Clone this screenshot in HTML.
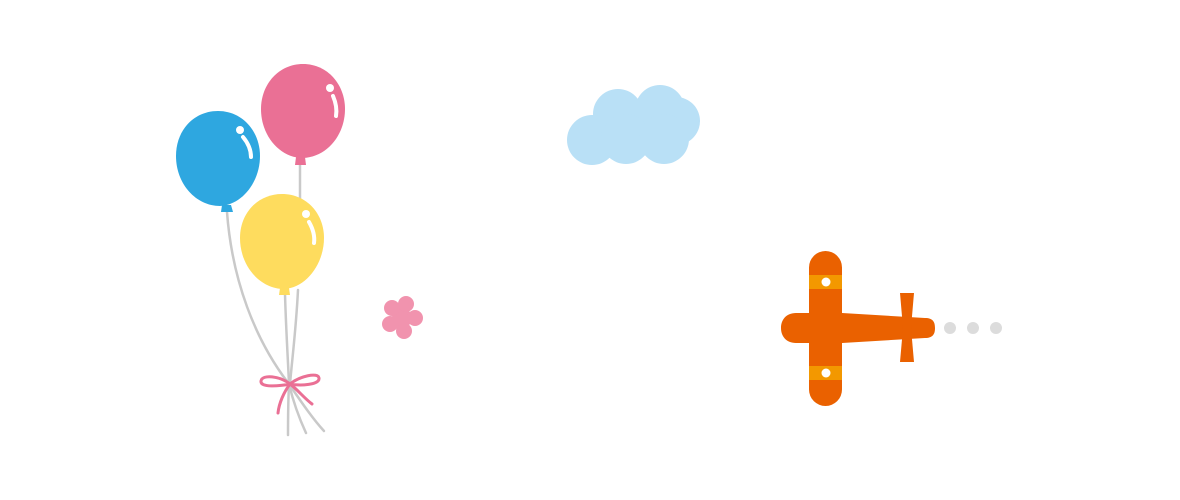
<!DOCTYPE html>
<html><head><meta charset="utf-8"><style>html,body{margin:0;padding:0;background:#fff}svg{display:block}</style></head>
<body>
<svg width="1180" height="500" viewBox="0 0 1180 500" xmlns="http://www.w3.org/2000/svg">
<rect width="1180" height="500" fill="#fff"/>
<!-- strings -->
<g fill="none" stroke="#c9c9c9" stroke-width="2.5" stroke-linecap="round">
<path d="M227,212 C232,280 255,340 289,384"/>
<path d="M300,164 L300,200 M298,290 C296,330 292,360 290,384"/>
<path d="M285,294 C286,330 288,360 289,384"/>
<path d="M289,384 C288,405 288,420 288,435"/>
<path d="M289,384 C294,405 300,420 306,433"/>
<path d="M289,384 C300,400 312,418 324,431"/>
</g>
<!-- blue -->
<path d="M218,111 C243,111 260,132 260,156 C260,182 242,205 220,206 C196,206 176,184 176,156 C176,130 194,111 218,111Z" fill="#2ea7e0"/>
<path d="M222,205 L231,205 L233,212 L221,212Z" fill="#2ea7e0"/>
<circle cx="240" cy="130" r="4" fill="#fff"/>
<path d="M243,137 C248,143 251,150 251,157" stroke="#fff" stroke-width="4" fill="none" stroke-linecap="round"/>
<!-- pink -->
<path d="M303,64 C328,64 345,85 345,109 C345,135 327,157 303,158 C280,158 261,136 261,109 C261,84 279,64 303,64Z" fill="#ea7095"/>
<path d="M296,157 L305,157 L306,165 L295,165Z" fill="#ea7095"/>
<circle cx="330" cy="88" r="4" fill="#fff"/>
<path d="M333,96 C336,103 337,110 336,116" stroke="#fff" stroke-width="4" fill="none" stroke-linecap="round"/>
<!-- yellow -->
<path d="M282,194 C307,194 324,214 324,238 C324,264 306,288 284,289 C260,289 240,266 240,238 C240,213 258,194 282,194Z" fill="#fedc5e"/>
<path d="M280,288 L289,288 L290,295 L279,295Z" fill="#fedc5e"/>
<circle cx="306" cy="214" r="4" fill="#fff"/>
<path d="M309,222 C313,229 315,236 314,243" stroke="#fff" stroke-width="4" fill="none" stroke-linecap="round"/>
<!-- bow -->
<g fill="none" stroke="#ea7095" stroke-width="3" stroke-linecap="round">
<path d="M290,384 C280,376 262,374 261,381 C260,388 280,386 290,384"/>
<path d="M290,384 C300,376 318,372 319,378 C320,385 300,386 290,384"/>
<path d="M290,384 C284,392 279,403 278,413"/>
<path d="M290,384 C298,390 304,398 312,404"/>
</g>
<!-- flower -->
<g fill="#f193ae">
<circle cx="402" cy="318" r="10"/>
<circle cx="392" cy="308" r="8"/>
<circle cx="406" cy="304" r="8"/>
<circle cx="415" cy="318" r="8"/>
<circle cx="404" cy="331" r="8"/>
<circle cx="390" cy="324" r="8"/>
</g>
<!-- cloud -->
<g fill="#b9e0f6">
<circle cx="592" cy="140" r="25"/>
<circle cx="618" cy="114" r="25"/>
<circle cx="660" cy="110" r="25"/>
<circle cx="676" cy="121" r="24"/>
<circle cx="626" cy="139" r="25"/>
<circle cx="664" cy="139" r="25"/>
</g>
<!-- plane -->
<rect x="809" y="251" width="33" height="155" rx="16.5" fill="#ea6100"/>
<rect x="809" y="275" width="33" height="14" fill="#f39800"/>
<rect x="809" y="366" width="33" height="14" fill="#f39800"/>
<circle cx="826" cy="282" r="4.5" fill="#fff"/>
<circle cx="826" cy="373" r="4.5" fill="#fff"/>
<path d="M796,313 L842,313 L925,318 C933,318 935,322 935,328 C935,334 933,338 925,338 L842,343 L796,343 C786,343 781,336 781,328 C781,320 786,313 796,313Z" fill="#ea6100"/>
<path d="M900,293 L914,293 L911,328 L914,362 L900,362 L903,328Z" fill="#ea6100"/>
<g fill="#dcdcdc"><circle cx="950" cy="328" r="6"/><circle cx="973" cy="328" r="6"/><circle cx="996" cy="328" r="6"/></g>
</svg>
</body></html>
